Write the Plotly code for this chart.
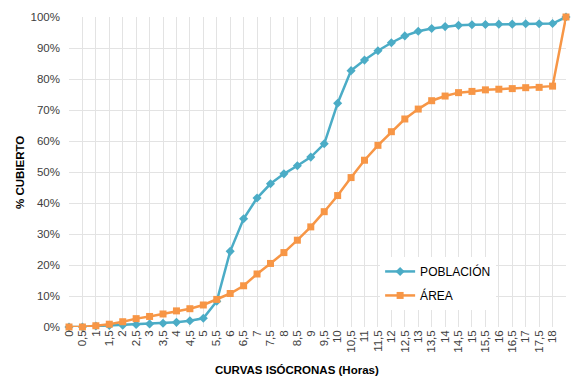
import plotly.graph_objects as go

horas = [i * 0.5 for i in range(38)]
tick_labels = [("%g" % h).replace(".", ",") for h in horas[:-1]] + [""]

poblacion = [0, 0, 0.3, 0.5, 0.6, 0.8, 1.0, 1.2, 1.5, 2.0, 2.8, 8.3, 24.4, 34.9, 41.6,
             46.2, 49.4, 52.0, 54.8, 59.1, 72.2, 82.7, 86.1, 89.1, 91.7, 93.9, 95.4,
             96.3, 96.9, 97.3, 97.5, 97.6, 97.7, 97.7, 97.8, 97.8, 97.9, 100]
area = [0, 0, 0.4, 0.9, 1.7, 2.7, 3.4, 4.2, 5.2, 5.9, 7.1, 8.9, 10.8, 13.3, 17.1,
        20.5, 24.0, 28.0, 32.3, 37.2, 42.4, 48.2, 53.8, 58.6, 63.0, 67.1, 70.3,
        73.0, 74.5, 75.6, 76.0, 76.5, 76.7, 76.9, 77.2, 77.3, 77.7, 100]

x_title = "CURVAS ISÓCRONAS (Horas)"
y_title = "% CUBIERTO"

x_idx = list(range(len(horas)))

fig = go.Figure()
fig.add_trace(go.Scatter(x=x_idx, y=poblacion, name="POBLACIÓN", mode="lines+markers",
                         legendgroup="a",
                         line=dict(color="#4BACC6", width=2.5),
                         marker=dict(symbol="diamond", size=7, color="#4BACC6"),
                         cliponaxis=False))
fig.add_trace(go.Scatter(x=x_idx, y=area, name="ÁREA", mode="lines+markers",
                         legendgroup="b",
                         line=dict(color="#F79646", width=2.5),
                         marker=dict(symbol="square", size=7, color="#F79646"),
                         cliponaxis=False))

fig.update_layout(
    width=574, height=377,
    margin=dict(l=61, r=16, t=9, b=58, autoexpand=False),
    paper_bgcolor="white", plot_bgcolor="white",
    font=dict(family="Liberation Sans, Arial, sans-serif", color="#404040", size=11),
    legend=dict(x=0.626, y=0.226, xanchor="left", yanchor="top",
                bgcolor="white", font=dict(size=12, color="#000000"),
                traceorder="grouped", tracegroupgap=5, itemwidth=30),
    xaxis=dict(range=[0, 37], tickmode="array", tickvals=x_idx, ticktext=tick_labels,
               tickangle=-90, showgrid=True, gridcolor="#E3E3E3", gridwidth=1,
               zeroline=False, showline=False, ticks="", automargin=False,
               tickfont=dict(size=11.5, color="#404040")),
    yaxis=dict(range=[0, 100], tickvals=list(range(0, 101, 10)),
               ticktext=["%d%%" % v for v in range(0, 101, 10)],
               showgrid=True, gridcolor="#E3E3E3", gridwidth=1, zeroline=False,
               showline=False, ticks="", ticklabelstandoff=8, automargin=False,
               tickfont=dict(size=11.5, color="#404040")),
    annotations=[
        dict(text="<b>%s</b>" % x_title, xref="paper", yref="paper",
             x=0.459, y=-0.139, xanchor="center", yanchor="middle", showarrow=False,
             font=dict(size=11.5, color="#000000")),
        dict(text="<b>%s</b>" % y_title, xref="paper", yref="paper",
             x=-0.0986, y=0.5, xanchor="center", yanchor="middle", showarrow=False,
             textangle=-90, font=dict(size=11.5, color="#000000")),
    ],
)

fig.write_html("out.html")
